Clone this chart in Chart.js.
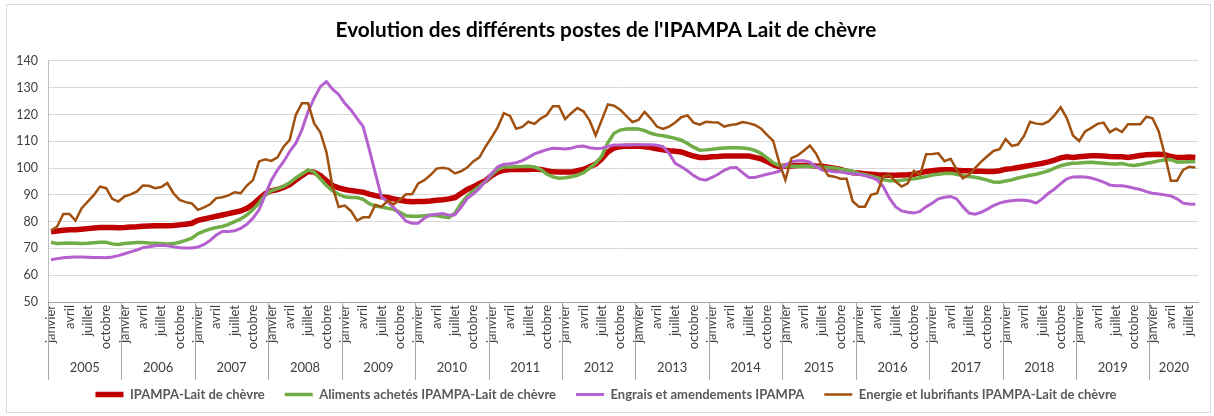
<!DOCTYPE html>
<html>
<head>
<meta charset="utf-8">
<script src="https://cdn.jsdelivr.net/npm/chart.js@4.4.1/dist/chart.umd.min.js"></script>
<style>
  body { margin: 0; background: #fff; }
  #wrap { position: relative; width: 1214px; height: 416px; }
</style>
</head>
<body>
<div id="wrap"><canvas id="chart" width="1214" height="416"></canvas></div>
<script>
// années et mois affichés sur l'axe
const years = [2005, 2006, 2007, 2008, 2009, 2010, 2011, 2012, 2013, 2014, 2015, 2016, 2017, 2018, 2019, 2020];
const months = ['janvier', 'février', 'mars', 'avril', 'mai', 'juin', 'juillet', 'août', 'septembre', 'octobre', 'novembre', 'décembre'];
const lastYearMonths = 8; // jusqu'à août 2020

const seriesNames = [
  'IPAMPA-Lait de chèvre',
  'Aliments achetés IPAMPA-Lait de chèvre',
  'Engrais et amendements IPAMPA',
  'Energie et lubrifiants IPAMPA-Lait de chèvre'
];

// indices mensuels, une ligne par année
const ipampa = [
  76.2, 76.5, 76.8, 77.0, 77.0, 77.2, 77.4, 77.6, 77.8, 77.8, 77.8, 77.7,
  77.8, 78.0, 78.1, 78.3, 78.4, 78.5, 78.5, 78.5, 78.6, 78.8, 79.0, 79.4,
  80.5, 81.0, 81.5, 82.0, 82.5, 83.0, 83.5, 84.0, 85.0, 86.5, 88.5, 90.5,
  91.5, 92.0, 92.8, 93.8, 95.5, 97.2, 98.7, 98.5, 97.2, 95.3, 93.5, 92.6,
  92.0, 91.6, 91.3, 91.0, 90.3, 89.7, 89.3, 89.0, 88.5, 88.0, 87.6, 87.4,
  87.5, 87.5, 87.7, 88.0, 88.2, 88.5, 89.0, 90.5, 92.0, 93.0, 94.3, 95.3,
  97.2, 98.5, 99.2, 99.5, 99.5, 99.5, 99.5, 99.7, 99.5, 99.0, 98.6, 98.5,
  98.5, 98.5, 99.0, 99.5, 100.5, 101.5, 103.5, 106.0, 107.5, 108.0, 108.2, 108.2,
  108.2, 108.0, 107.7, 107.2, 106.8, 106.5, 106.3, 106.0, 105.2, 104.5, 104.0, 104.0,
  104.2, 104.3, 104.5, 104.5, 104.5, 104.5, 104.5, 104.0, 103.5, 102.5, 101.3, 100.5,
  100.8, 100.8, 101.0, 101.0, 101.0, 100.8, 100.7, 100.3, 100.0, 99.5, 98.8, 98.3,
  98.2, 97.9, 97.7, 97.5, 97.4, 97.3, 97.3, 97.4, 97.5, 97.7, 98.2, 98.7,
  99.0, 99.3, 99.4, 99.4, 99.2, 99.0, 99.0, 98.8, 98.8, 98.7, 98.7, 99.0,
  99.6, 99.8, 100.2, 100.6, 101.0, 101.4, 101.8, 102.3, 103.0, 103.8, 104.2, 104.0,
  104.2, 104.4, 104.6, 104.6, 104.5, 104.3, 104.2, 104.2, 104.0, 104.3, 104.7, 105.0,
  105.1, 105.2, 105.0, 104.3, 104.0, 104.0, 104.1, 104.0
];

const aliments = [
  72.3, 71.8, 71.9, 72.0, 71.9, 71.8, 71.9, 72.1, 72.3, 72.3, 71.7, 71.5,
  71.8, 72.0, 72.2, 72.2, 72.0, 71.9, 71.8, 71.7, 71.8, 72.3, 73.0, 73.8,
  75.5, 76.5, 77.2, 77.8, 78.2, 79.0, 80.0, 81.0, 82.5, 84.5, 87.0, 90.0,
  91.5, 92.3, 93.2, 94.5, 96.3, 97.8, 99.3, 98.5, 96.0, 93.5, 91.5, 90.2,
  89.3, 89.0, 89.0, 88.3, 86.7, 85.8, 85.5, 85.0, 84.6, 83.5, 82.2, 82.0,
  82.0, 82.2, 82.4, 82.3, 81.8, 81.5, 83.2, 86.8, 89.5, 91.5, 93.2, 95.0,
  97.5, 99.5, 100.4, 100.4, 100.5, 100.6, 100.7, 100.4, 99.5, 97.8, 96.7, 96.2,
  96.4, 96.8, 97.3, 98.3, 100.0, 101.8, 104.5, 109.5, 113.0, 114.2, 114.6, 114.7,
  114.6, 114.0, 113.0, 112.4, 112.1, 111.6, 111.1, 110.4, 109.2, 107.8, 106.7, 106.8,
  107.0, 107.3, 107.5, 107.6, 107.6, 107.5, 107.2, 106.6, 105.5, 103.8, 102.0, 101.0,
  100.8, 100.7, 100.7, 100.8, 100.7, 100.5, 100.4, 100.2, 100.0, 99.6, 99.2, 98.8,
  98.0, 97.5, 97.0, 96.4, 95.7, 95.3, 95.3, 95.5, 95.8, 96.0, 96.4, 96.8,
  97.4, 97.7, 98.0, 98.1, 97.7, 97.1, 96.9, 96.6, 96.1, 95.5, 94.8, 94.7,
  95.2, 95.6, 96.3, 96.8, 97.3, 97.7, 98.3, 99.0, 100.0, 100.9, 101.4, 101.8,
  101.9, 102.1, 102.2, 102.0, 101.8, 101.6, 101.5, 101.7, 101.2, 101.0, 101.3, 101.8,
  102.2, 102.7, 103.0, 103.2, 102.3, 102.3, 102.4, 102.5
];

const engrais = [
  65.8, 66.2, 66.5, 66.7, 66.8, 66.8, 66.7, 66.6, 66.6, 66.5, 66.8, 67.3,
  68.0, 68.7, 69.4, 70.3, 70.6, 71.0, 71.2, 71.0, 70.6, 70.3, 70.2, 70.2,
  70.5, 71.5, 73.0, 75.0, 76.3, 76.3, 76.6, 77.5, 79.0, 81.3, 84.4, 90.0,
  95.5, 99.3, 102.4, 106.2, 109.3, 114.3, 121.1, 126.1, 130.4, 132.3, 129.5, 127.5,
  124.2, 121.7, 118.6, 115.5, 107.0, 98.0, 89.2, 87.5, 85.3, 82.8, 80.2, 79.4,
  79.4, 81.3, 82.5, 82.8, 83.0, 82.4, 82.6, 85.3, 88.6, 90.4, 92.4, 95.2,
  98.0, 100.5, 101.4, 101.6, 102.0, 102.8, 104.0, 105.3, 106.1, 106.9, 107.4, 107.3,
  107.1, 107.4, 108.1, 108.2, 107.6, 107.3, 107.4, 108.1, 108.6, 108.6, 108.6, 108.6,
  108.7, 108.7, 108.7, 108.5, 108.0, 105.5, 101.8, 100.5, 99.0, 97.2, 95.9, 95.5,
  96.5, 97.7, 99.2, 100.1, 100.2, 98.3, 96.5, 96.5, 97.1, 97.7, 98.2, 98.8,
  101.2, 102.4, 102.7, 102.7, 102.2, 100.6, 99.3, 99.0, 98.6, 98.5, 98.2, 97.9,
  97.7, 97.2, 96.5, 95.6, 93.1, 88.8, 85.6, 84.0, 83.5, 83.2, 83.8, 85.6,
  86.9, 88.5, 89.1, 89.4, 88.5, 85.6, 83.2, 82.8, 83.5, 84.7, 86.0, 86.9,
  87.5, 87.8, 88.1, 88.0, 87.7, 86.9, 88.6, 90.6, 92.2, 94.2, 96.0, 96.7,
  96.8, 96.7, 96.3, 95.6, 94.8, 93.7, 93.4, 93.4, 93.0, 92.5, 92.0, 91.2,
  90.6, 90.3, 90.0, 89.6, 88.5, 86.9, 86.6, 86.5
];

const energie = [
  76.7, 78.2, 82.9, 82.9, 80.4, 85.0, 87.5, 90.0, 93.1, 92.5, 88.5, 87.5,
  89.4, 90.2, 91.2, 93.5, 93.4, 92.5, 92.9, 94.4, 90.6, 88.1, 87.3, 86.8,
  84.4, 85.3, 86.5, 88.8, 89.1, 89.8, 91.0, 90.6, 93.5, 95.5, 102.5, 103.3,
  102.7, 104.0, 108.0, 110.5, 119.9, 124.2, 124.2, 116.7, 113.4, 106.0, 93.0, 85.5,
  86.0, 84.0, 80.4, 81.6, 81.6, 86.3, 85.5, 87.8, 86.5, 88.1, 90.2, 90.2,
  94.3, 95.5, 97.4, 99.8, 100.1, 99.7, 98.0, 98.8, 100.2, 102.5, 104.0, 108.0,
  111.5, 115.3, 120.5, 119.5, 114.7, 115.4, 117.3, 116.5, 118.5, 119.8, 123.1, 123.1,
  118.3, 120.5, 122.4, 121.2, 117.8, 112.2, 118.0, 123.8, 123.3, 121.8, 119.5, 117.2,
  118.0, 121.0, 118.5, 115.5, 114.6, 115.5, 117.0, 119.0, 119.7, 117.0, 116.2, 117.3,
  117.1, 117.0, 115.5, 116.1, 116.4, 117.2, 116.8, 116.1, 114.8, 112.4, 110.2, 102.0,
  95.6, 103.7, 104.7, 106.5, 108.4, 105.5, 100.8, 97.2, 96.8, 96.0, 96.0, 87.6,
  85.6, 85.6, 90.0, 90.6, 97.0, 97.4, 95.0, 93.1, 94.3, 99.0, 97.4, 105.2,
  105.3, 105.5, 102.6, 103.5, 99.4, 96.2, 97.5, 100.0, 102.4, 104.4, 106.4, 107.1,
  110.8, 108.3, 108.8, 112.0, 117.3, 116.6, 116.4, 117.4, 119.8, 122.7, 118.6, 112.2,
  110.1, 113.7, 115.0, 116.5, 117.0, 113.4, 114.7, 113.5, 116.4, 116.4, 116.4, 119.2,
  118.6, 113.8, 105.0, 95.3, 95.3, 99.3, 100.5, 100.2
];

const yTicks = [50, 60, 70, 80, 90, 100, 110, 120, 130, 140];

// libellés de catégorie : un par mois
const labels = [];
years.forEach((y, k) => {
  const n = k === years.length - 1 ? lastYearMonths : 12;
  for (let m = 0; m < n; m++) labels.push(months[m]);
});

Chart.defaults.font.family = 'Lato, "Open Sans", sans-serif';

const frame = {
  id: 'frame',
  beforeDraw(chart) {
    const ctx = chart.ctx;
    ctx.save();
    ctx.fillStyle = '#fff';
    ctx.fillRect(0, 0, chart.width, chart.height);
    ctx.strokeStyle = '#d9d9d9';
    ctx.lineWidth = 1;
    ctx.strokeRect(6.5, 4.5, chart.width - 10, chart.height - 8);
    ctx.restore();
  }
};

// rangée des années sous les mois
const yearRow = {
  id: 'yearRow',
  afterDraw(chart) {
    const x = chart.scales.x;
    const ctx = chart.ctx;
    const half = (x.getPixelForValue(1) - x.getPixelForValue(0)) / 2;
    const top = chart.chartArea.bottom;
    const bottom = top + 78;
    ctx.save();
    ctx.strokeStyle = '#a6a6a6';
    ctx.lineWidth = 1;
    ctx.fillStyle = '#404040';
    ctx.font = '13px Lato, "Open Sans", sans-serif';
    ctx.textAlign = 'center';
    ctx.textBaseline = 'middle';
    years.forEach((y, k) => {
      const first = k * 12;
      const last = Math.min(first + 12, labels.length) - 1;
      const x0 = x.getPixelForValue(first) - half;
      const x1 = x.getPixelForValue(last) + half;
      ctx.beginPath();
      ctx.moveTo(Math.round(x0) + 0.5, top);
      ctx.lineTo(Math.round(x0) + 0.5, bottom);
      ctx.stroke();
      ctx.fillText(String(y), (x0 + x1) / 2, top + 66);
    });
    ctx.restore();
  }
};

const colors = ['#c00000', '#70ad47', '#b560cf', '#a0500f'];
const widths = [5.5, 3.5, 3, 2.5];
const values = [ipampa, aliments, engrais, energie];

new Chart(document.getElementById('chart'), {
  type: 'line',
  data: {
    labels: labels,
    datasets: values.map((v, i) => ({
      label: seriesNames[i],
      data: v,
      borderColor: colors[i],
      backgroundColor: colors[i],
      borderWidth: widths[i],
      pointRadius: 0,
      tension: 0,
      fill: false,
      order: 3 - i
    }))
  },
  options: {
    responsive: false,
    animation: false,
    devicePixelRatio: 1,
    layout: { padding: { left: 12, right: 14, top: 0, bottom: 5 } },
    plugins: {
      title: {
        display: true,
        text: "Evolution des différents postes de l'IPAMPA Lait de chèvre",
        color: '#000',
        font: { size: 20.8, weight: 'bold' },
        padding: { top: 18, bottom: 18 }
      },
      legend: {
        position: 'bottom',
        labels: {
          usePointStyle: true,
          pointStyle: 'line',
          pointStyleWidth: 28,
          color: '#595959',
          font: { size: 13, weight: 'bold' },
          padding: 20,
          sort: (a, b) => a.datasetIndex - b.datasetIndex
        }
      },
      tooltip: { enabled: false }
    },
    scales: {
      x: {
        offset: true,
        grid: { display: false, drawTicks: false },
        border: { display: true, color: '#a6a6a6' },
        ticks: {
          autoSkip: false,
          minRotation: 90,
          maxRotation: 90,
          padding: 3,
          color: '#404040',
          font: { size: 13 },
          callback: function (val, idx) {
            return idx % 3 === 0 ? this.getLabelForValue(val) : '';
          }
        },
        afterFit: (s) => { s.height = 66; }
      },
      y: {
        min: 50,
        max: 140,
        afterBuildTicks: (s) => { s.ticks = yTicks.map(v => ({ value: v })); },
        grid: { color: '#d9d9d9', drawTicks: false },
        border: { display: true, color: '#bfbfbf' },
        ticks: { color: '#404040', font: { size: 12.5 }, padding: 10 },
        afterFit: (s) => { s.width = 36; }
      }
    }
  },
  plugins: [frame, yearRow]
});
</script>
</body>
</html>
